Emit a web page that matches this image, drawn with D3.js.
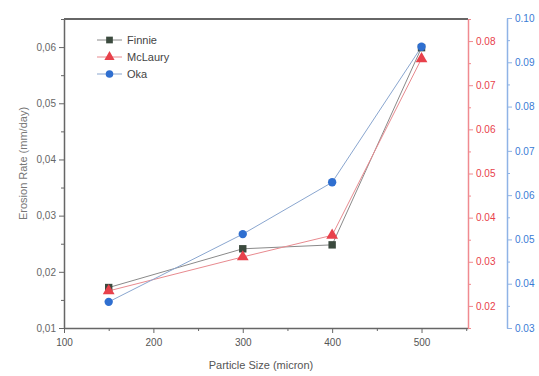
<html>

<head>
    <script src="https://d3js.org/d3.v7.min.js"></script>
    <style>
        body { margin: 0; background: #fff; }
        text { font-family: "Liberation Sans", Arial, sans-serif; }
    </style>
</head>

<body></body>
<script>

    // data
    var sizes = [150, 300, 400, 500];
    var finnie = [0.0172, 0.0241, 0.0248, 0.0599];   // left axis
    var mclaury = [0.0234, 0.0311, 0.0360, 0.0760];  // red axis
    var oka = [0.0359, 0.0512, 0.0629, 0.0935];      // blue axis

    var xTicks = [100, 200, 300, 400, 500];
    var leftTicks = [0.01, 0.02, 0.03, 0.04, 0.05, 0.06];
    var redTicks = [0.02, 0.03, 0.04, 0.05, 0.06, 0.07, 0.08];
    var blueTicks = [0.03, 0.04, 0.05, 0.06, 0.07, 0.08, 0.09, 0.10];

    var seriesNames = ["Finnie", "McLaury", "Oka"];

    // plot box
    var margin = { top: 19, right: 71, bottom: 48, left: 64 },
        width = 539 - margin.left - margin.right,
        height = 376 - margin.top - margin.bottom;

    var svg = d3.select("body")
        .append("svg")
        .attr("width", 539)
        .attr("height", 376)
        .append("g")
        .attr("transform", "translate(" + margin.left + "," + margin.top + ")");

    var grey = "#666";
    var red = "#e8414b";
    var blue = "#3a7bd5";

    // scales
    var x = d3.scaleLinear().domain([100, 552]).range([0, width]);
    var yL = d3.scaleLinear().domain([0.01, 0.065]).range([height, 0]);
    var yR = d3.scaleLinear().domain([0.015, 0.085]).range([height, 0]);
    var yB = d3.scaleLinear().domain([0.03, 0.10]).range([height, -1]);

    var comma = function (d) { return d3.format(".2f")(d).replace(".", ","); };

    function styleAxis(g, col, textCol) {
        g.select(".domain").attr("stroke", col).attr("stroke-width", 1.5);
        g.selectAll(".tick line").attr("stroke", col);
        g.selectAll(".tick text").attr("fill", textCol).style("font-size", "10px");
    }

    function minor(g, ticks, scale, orient, col) {
        var mids = [];
        for (var i = 0; i < ticks.length - 1; i++) mids.push((ticks[i] + ticks[i + 1]) / 2);
        var ax = orient(scale).tickValues(mids).tickSize(3).tickFormat("");
        g.append("g").call(ax).call(function (s) {
            s.select(".domain").remove();
            s.selectAll("line").attr("stroke", col);
        });
    }

    // x axis
    var gx = svg.append("g")
        .attr("transform", "translate(0," + height + ")")
        .call(d3.axisBottom(x).tickValues(xTicks).tickSize(5).tickPadding(6).tickSizeOuter(0));
    styleAxis(gx, grey, "#555");
    var gxm = svg.append("g").attr("transform", "translate(0," + height + ")");
    minor(gxm, [100, 200, 300, 400, 500, 600], x, d3.axisBottom, grey);

    // top frame line
    svg.append("line")
        .attr("x1", 0).attr("x2", width)
        .attr("y1", 0).attr("y2", 0)
        .attr("stroke", grey).attr("stroke-width", 2);

    // left axis
    var gl = svg.append("g")
        .call(d3.axisLeft(yL).tickValues(leftTicks).tickSize(5).tickFormat(comma).tickSizeOuter(0));
    styleAxis(gl, grey, "#666");
    minor(svg.append("g"), [0.01, 0.02, 0.03, 0.04, 0.05, 0.06, 0.07], yL, d3.axisLeft, grey);

    // red right axis
    var gr = svg.append("g")
        .attr("transform", "translate(" + width + ",0)")
        .call(d3.axisRight(yR).tickValues(redTicks).tickSize(5).tickFormat(d3.format(".2f")).tickSizeOuter(0));
    styleAxis(gr, "#f08a90", red);
    minor(svg.append("g").attr("transform", "translate(" + width + ",0)"),
        [0.01, 0.02, 0.03, 0.04, 0.05, 0.06, 0.07, 0.08, 0.09], yR, d3.axisRight, "#f08a90");

    // blue right axis
    var gb = svg.append("g")
        .attr("transform", "translate(" + (width + 39) + ",0)")
        .call(d3.axisRight(yB).tickValues(blueTicks).tickSize(5).tickFormat(d3.format(".2f")).tickSizeOuter(0));
    styleAxis(gb, "#8fb3e6", blue);
    minor(svg.append("g").attr("transform", "translate(" + (width + 39) + ",0)"),
        blueTicks, yB, d3.axisRight, "#8fb3e6");

    // axis titles
    svg.append("text")
        .attr("x", width / 2 - 5)
        .attr("y", height + 41)
        .style("text-anchor", "middle")
        .style("font-size", "11px")
        .attr("fill", "#555")
        .text("Particle Size (micron)");

    svg.append("text")
        .attr("transform", "rotate(-90)")
        .attr("x", -height / 2 + 10)
        .attr("y", -37)
        .style("text-anchor", "middle")
        .style("font-size", "11px")
        .attr("fill", "#777")
        .text("Erosion Rate (mm/day)");

    // series
    var series = [
        { name: "Finnie", vals: finnie, scale: yL, col: "#3b4a3e", line: "#8a8a8a", shape: d3.symbolSquare },
        { name: "McLaury", vals: mclaury, scale: yR, col: "#e8414b", line: "#e88a8f", shape: d3.symbolTriangle },
        { name: "Oka", vals: oka, scale: yB, col: "#2f6fd0", line: "#8aa6cf", shape: d3.symbolCircle }
    ];

    series.forEach(function (s) {
        var pts = sizes.map(function (d, i) { return [d, s.vals[i]]; });
        svg.append("path")
            .datum(pts)
            .attr("fill", "none")
            .attr("stroke", s.line)
            .attr("stroke-width", 1)
            .attr("d", d3.line().x(function (d) { return x(d[0]); }).y(function (d) { return s.scale(d[1]); }));
    });

    series.forEach(function (s) {
        svg.append("g")
            .selectAll("path")
            .data(sizes.map(function (d, i) { return [d, s.vals[i]]; }))
            .enter()
            .append("path")
            .attr("transform", function (d) { return "translate(" + x(d[0]) + "," + s.scale(d[1]) + ")"; })
            .attr("d", d3.symbol().type(s.shape).size(s.shape === d3.symbolTriangle ? 60 : 55))
            .attr("fill", s.col);
    });

    // legend
    var legend = svg.append("g").attr("transform", "translate(33,21)");
    series.forEach(function (s, i) {
        var row = legend.append("g").attr("transform", "translate(0," + (i * 17) + ")");
        row.append("line").attr("x1", 0).attr("x2", 25).attr("stroke", s.line);
        row.append("path")
            .attr("transform", "translate(12.5,0)")
            .attr("d", d3.symbol().type(s.shape).size(45))
            .attr("fill", s.col);
        row.append("text")
            .attr("x", 30)
            .attr("dy", "0.35em")
            .style("font-size", "11px")
            .attr("fill", "#444")
            .text(seriesNames[i]);
    });

</script>

</html>
